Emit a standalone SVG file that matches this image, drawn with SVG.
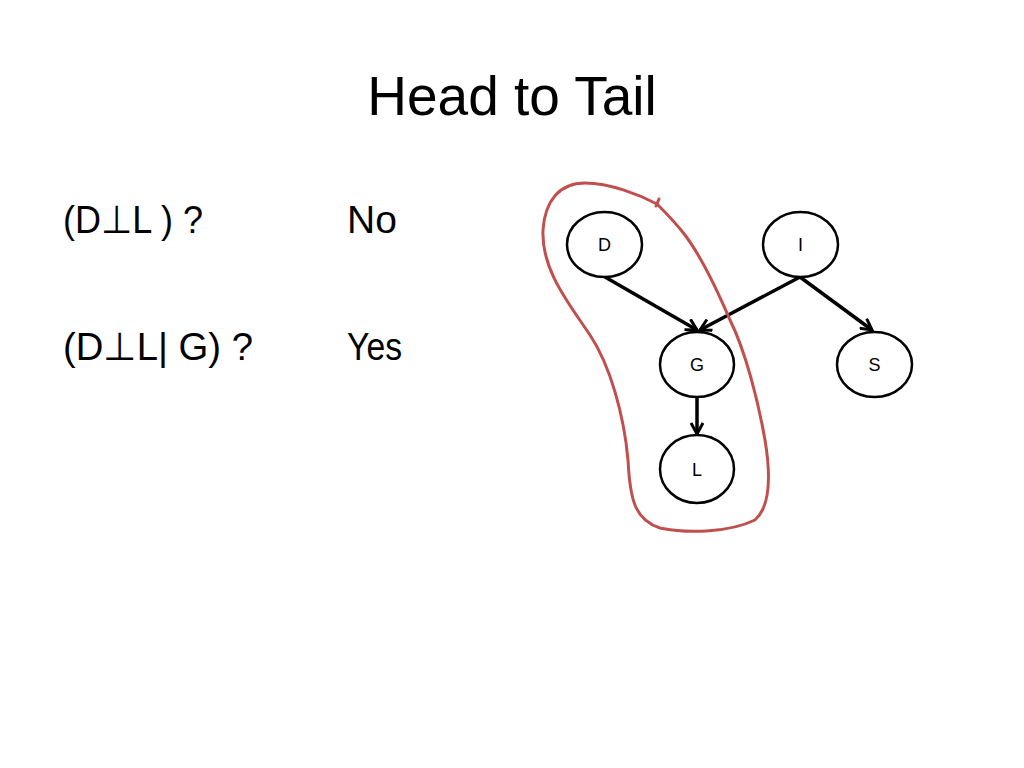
<svg xmlns="http://www.w3.org/2000/svg" width="1024" height="768" viewBox="0 0 1024 768">
<defs>
<style>
.t{font-family:"Liberation Sans",Arial,sans-serif;fill:#000}
.node ellipse{fill:#fff;stroke:#000;stroke-width:2.5}
.node text{font-family:"Liberation Sans",Arial,sans-serif;font-size:18px;text-anchor:middle;fill:#000}
.edge{stroke:#000;stroke-width:3.5;fill:none;marker-end:url(#ah)}
</style>
<marker id="ah" markerUnits="userSpaceOnUse" viewBox="0 0 14 14" refX="12" refY="7" markerWidth="14" markerHeight="14" orient="auto">
<path d="M1,1 L12,7 L1,13" fill="none" stroke="#000" stroke-width="3" stroke-linejoin="miter"/>
</marker>
</defs>
<rect width="1024" height="768" fill="#fff"/>
<text class="t" x="512" y="115" font-size="55" text-anchor="middle">Head to Tail</text>
<text class="t" x="63" y="233" font-size="39" textLength="140" lengthAdjust="spacingAndGlyphs">(D⊥L ) ?</text>
<text class="t" x="347" y="233" font-size="39">No</text>
<text class="t" x="63" y="360" font-size="39" textLength="190" lengthAdjust="spacingAndGlyphs">(D⊥L| G) ?</text>
<text class="t" x="347" y="360" font-size="39" textLength="55" lengthAdjust="spacingAndGlyphs">Yes</text>
<g id="connectors">
<line class="edge" x1="605" y1="277" x2="697" y2="330"/>
<line class="edge" x1="800" y1="277" x2="700" y2="330"/>
<line class="edge" x1="800" y1="277" x2="872" y2="330"/>
<line class="edge" x1="697" y1="397" x2="697" y2="434"/>
</g>
<g id="node-D" class="node"><ellipse cx="604.5" cy="244.5" rx="37.5" ry="32.5"/><text x="604.5" y="251">D</text></g>
<g id="node-I" class="node"><ellipse cx="800.5" cy="244.5" rx="37.5" ry="32.5"/><text x="800.5" y="251">I</text></g>
<g id="node-G" class="node"><ellipse cx="697" cy="364.5" rx="37" ry="32.5"/><text x="697" y="371">G</text></g>
<g id="node-S" class="node"><ellipse cx="874.5" cy="364.5" rx="37.5" ry="32.5"/><text x="874.5" y="371">S</text></g>
<g id="node-L" class="node"><ellipse cx="697" cy="469" rx="37" ry="34"/><text x="697" y="475.5">L</text></g>
<g id="highlight" fill="none" stroke="#C0504D" stroke-width="3" stroke-linecap="round">
<path d="M657,204 C640,195 610,183 585,183 C560,183 545,200 543,230 C541,270 570,305 590,335 C610,365 624,415 628,460 C630,500 635,520 660,528 C690,534 730,532 755,520 C772,505 770,470 765,440 C758,400 745,350 730,320 C715,285 700,255 685,235 C675,222 665,212 657,204 Z"/>
<line x1="656" y1="206" x2="659" y2="199"/>
</g>
</svg>
